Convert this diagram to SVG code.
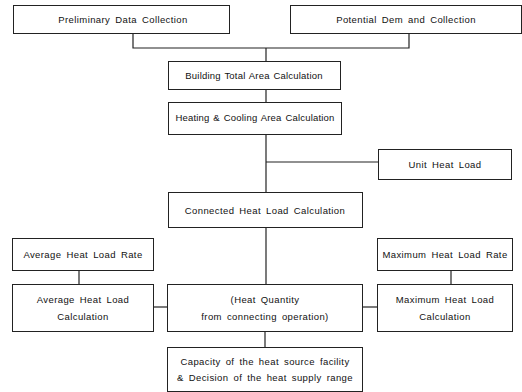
<svg xmlns="http://www.w3.org/2000/svg" width="522" height="392" viewBox="0 0 522 392">
<style>
.box{fill:#fff;stroke:#222;stroke-width:1}
.t{font-family:"Liberation Sans",Arial,sans-serif;font-size:9.5px;fill:#111;text-anchor:middle;letter-spacing:0.4px;word-spacing:2px}
.n{letter-spacing:0.2px;word-spacing:1px}
.c{fill:none;stroke:#222;stroke-width:1.2}
</style>
<rect width="522" height="392" fill="#fff"/>
<g id="connectors">
<polyline class="c" points="133,33 133,48 409,48 409,34"/>
<line class="c" x1="266" y1="48" x2="266" y2="61"/>
<line class="c" x1="266" y1="89" x2="266" y2="102"/>
<line class="c" x1="266" y1="135" x2="266" y2="192"/>
<line class="c" x1="266" y1="162" x2="378" y2="162"/>
<line class="c" x1="266" y1="227" x2="266" y2="284"/>
<line class="c" x1="79" y1="270" x2="79" y2="284"/>
<line class="c" x1="451" y1="270" x2="451" y2="284"/>
<line class="c" x1="154" y1="307" x2="167" y2="307"/>
<line class="c" x1="363" y1="307" x2="377" y2="307"/>
<line class="c" x1="265" y1="332" x2="265" y2="347"/>
</g>
<g id="n1"><rect class="box" x="13.5" y="5.5" width="216" height="28"/><text class="t" x="123" y="22.5">Preliminary Data Collection</text></g>
<g id="n2"><rect class="box" x="290.5" y="5.5" width="231" height="28"/><text class="t" x="406" y="22.5">Potential Dem and Collection</text></g>
<g id="n3"><rect class="box" x="168.5" y="61.5" width="172" height="28"/><text class="t n" x="254" y="79">Building Total Area Calculation</text></g>
<g id="n4"><rect class="box" x="168.5" y="102.5" width="173" height="32"/><text class="t n" x="255" y="121">Heating &amp; Cooling Area Calculation</text></g>
<g id="n5"><rect class="box" x="378.5" y="149.5" width="133" height="30"/><text class="t" x="445" y="168">Unit Heat Load</text></g>
<g id="n6"><rect class="box" x="168.5" y="192.5" width="194" height="35"/><text class="t" x="265" y="213.5">Connected Heat Load Calculation</text></g>
<g id="n7"><rect class="box" x="12.5" y="238.5" width="141" height="32"/><text class="t" x="83" y="258">Average Heat Load Rate</text></g>
<g id="n8"><rect class="box" x="377.5" y="238.5" width="135" height="32"/><text class="t" x="445" y="258">Maximum Heat Load Rate</text></g>
<g id="n9"><rect class="box" x="12.5" y="284.5" width="141" height="47"/><text class="t" x="83" y="303">Average Heat Load</text><text class="t" x="83" y="320">Calculation</text></g>
<g id="n10"><rect class="box" x="167.5" y="284.5" width="195" height="47"/><text class="t" x="265" y="303">(Heat Quantity</text><text class="t" x="265" y="320">from connecting operation)</text></g>
<g id="n11"><rect class="box" x="377.5" y="284.5" width="135" height="47"/><text class="t" x="445" y="303">Maximum Heat Load</text><text class="t" x="445" y="320">Calculation</text></g>
<g id="n12"><rect class="box" x="167.5" y="347.5" width="195" height="44"/><text class="t" x="265" y="365">Capacity of the heat source facility</text><text class="t" x="265" y="381">&amp; Decision of the heat supply range</text></g>
</svg>
